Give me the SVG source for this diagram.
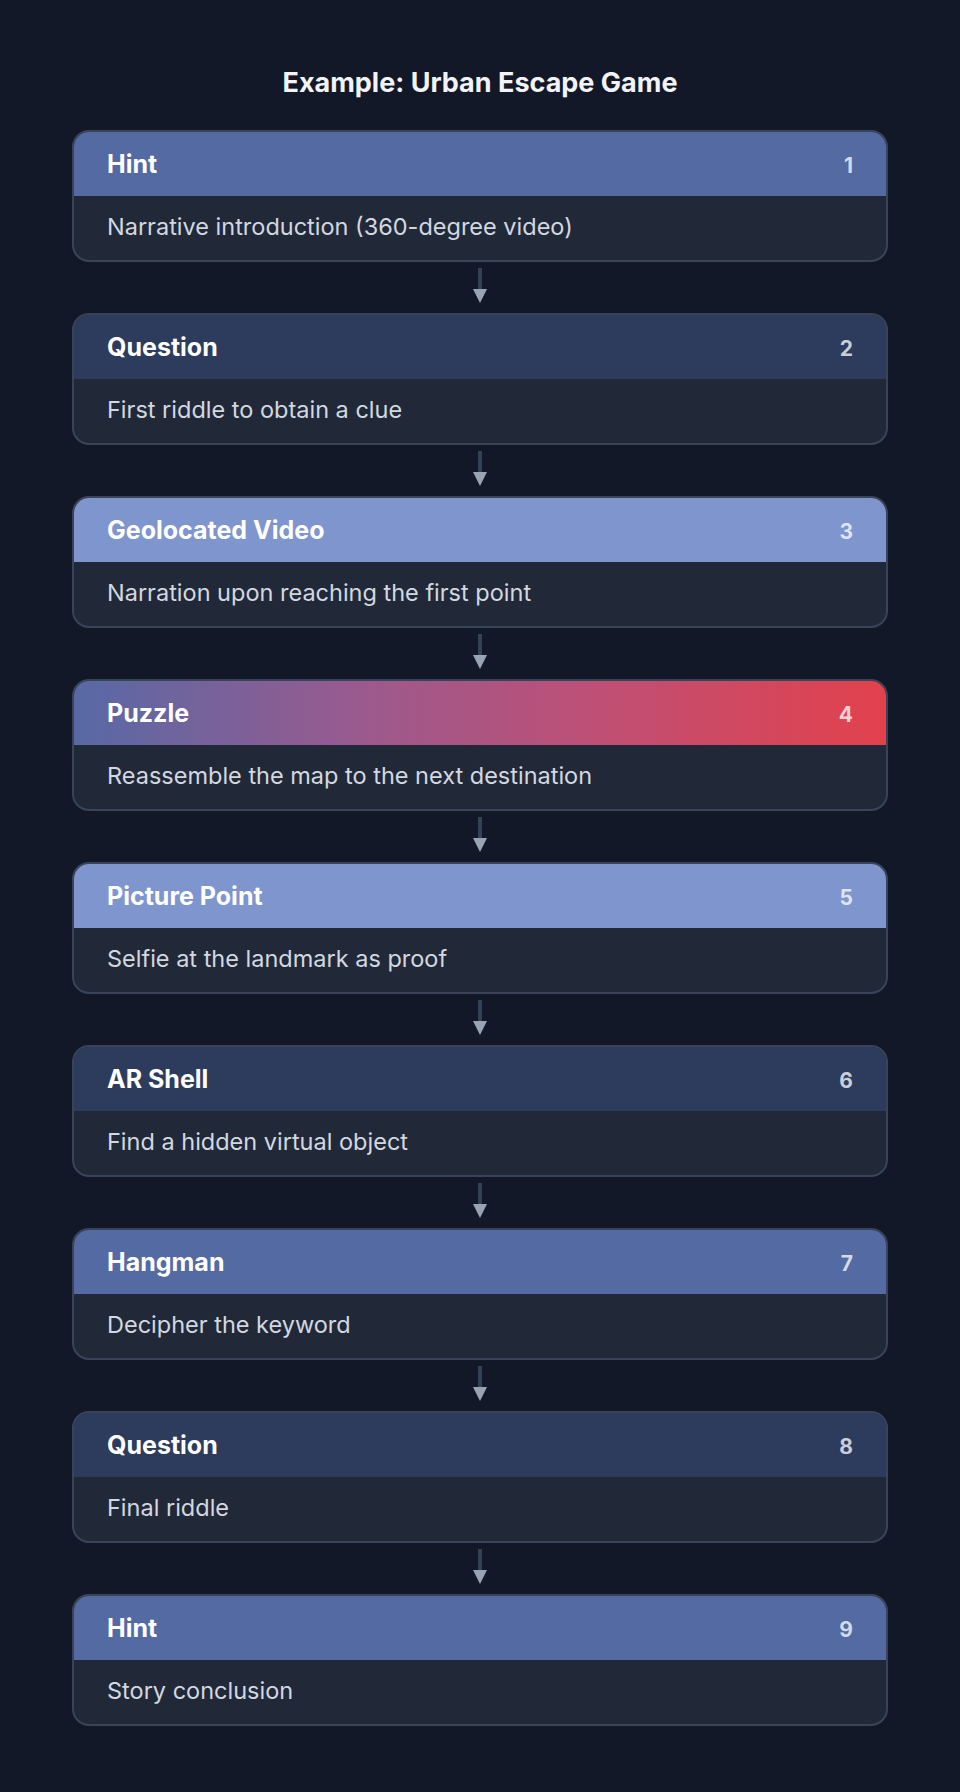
<svg xmlns="http://www.w3.org/2000/svg" width="960" height="1792" viewBox="0 0 960 1792">
<defs>
<style>
.bg{fill:#121827}
.card{fill:#212939;stroke:#3a4458;stroke-width:2}
.title{font-family:Inter,"Noto Sans",sans-serif;font-weight:700;font-size:27px;fill:#f1f3f7;text-anchor:middle}
.h{font-family:Inter,"Noto Sans",sans-serif;font-weight:700;font-size:25px;fill:#ffffff}
.n{font-family:Inter,"Noto Sans",sans-serif;font-weight:700;font-size:21px;fill:#ffffff;fill-opacity:0.75;text-anchor:end}
.b{font-family:Inter,"Noto Sans",sans-serif;font-weight:400;font-size:23.5px;fill:#d3d8e0}
.c1{fill:#536aa3}
.c2{fill:#2d3c5d}
.c3{fill:#7e95ce}
.line{stroke:#334155;stroke-width:4}
.head{fill:#9aa3b4}
</style>
<linearGradient id="gp" x1="0" y1="0" x2="1" y2="0">
<stop offset="0" stop-color="#5769a6"/>
<stop offset="0.35" stop-color="#9a5a8e"/>
<stop offset="0.65" stop-color="#bf4f74"/>
<stop offset="1" stop-color="#e2414c"/>
</linearGradient>
</defs>
<rect class="bg" x="0" y="0" width="960" height="1792"/>
<text class="title" x="480" y="92">Example: Urban Escape Game</text>

<g id="connectors">
<g transform="translate(0,0)"><line class="line" x1="480" y1="268" x2="480" y2="290"/><polygon class="head" points="473,289 487,289 480,303"/></g>
<g transform="translate(0,183)"><line class="line" x1="480" y1="268" x2="480" y2="290"/><polygon class="head" points="473,289 487,289 480,303"/></g>
<g transform="translate(0,366)"><line class="line" x1="480" y1="268" x2="480" y2="290"/><polygon class="head" points="473,289 487,289 480,303"/></g>
<g transform="translate(0,549)"><line class="line" x1="480" y1="268" x2="480" y2="290"/><polygon class="head" points="473,289 487,289 480,303"/></g>
<g transform="translate(0,732)"><line class="line" x1="480" y1="268" x2="480" y2="290"/><polygon class="head" points="473,289 487,289 480,303"/></g>
<g transform="translate(0,915)"><line class="line" x1="480" y1="268" x2="480" y2="290"/><polygon class="head" points="473,289 487,289 480,303"/></g>
<g transform="translate(0,1098)"><line class="line" x1="480" y1="268" x2="480" y2="290"/><polygon class="head" points="473,289 487,289 480,303"/></g>
<g transform="translate(0,1281)"><line class="line" x1="480" y1="268" x2="480" y2="290"/><polygon class="head" points="473,289 487,289 480,303"/></g>
</g>

<g id="node1" transform="translate(0,131)">
<rect class="card" x="73" y="0" width="814" height="130" rx="16"/>
<path class="c1" d="M89,1 H871 A15,15 0 0 1 886,16 V65 H74 V16 A15,15 0 0 1 89,1 Z"/>
<text class="h" x="107" y="42">Hint</text><text class="n" x="853" y="42">1</text>
<text class="b" x="107" y="104">Narrative introduction (360-degree video)</text>
</g>
<g id="node2" transform="translate(0,314)">
<rect class="card" x="73" y="0" width="814" height="130" rx="16"/>
<path class="c2" d="M89,1 H871 A15,15 0 0 1 886,16 V65 H74 V16 A15,15 0 0 1 89,1 Z"/>
<text class="h" x="107" y="42">Question</text><text class="n" x="853" y="42">2</text>
<text class="b" x="107" y="104">First riddle to obtain a clue</text>
</g>
<g id="node3" transform="translate(0,497)">
<rect class="card" x="73" y="0" width="814" height="130" rx="16"/>
<path class="c3" d="M89,1 H871 A15,15 0 0 1 886,16 V65 H74 V16 A15,15 0 0 1 89,1 Z"/>
<text class="h" x="107" y="42">Geolocated Video</text><text class="n" x="853" y="42">3</text>
<text class="b" x="107" y="104">Narration upon reaching the first point</text>
</g>
<g id="node4" transform="translate(0,680)">
<rect class="card" x="73" y="0" width="814" height="130" rx="16"/>
<path fill="url(#gp)" d="M89,1 H871 A15,15 0 0 1 886,16 V65 H74 V16 A15,15 0 0 1 89,1 Z"/>
<text class="h" x="107" y="42">Puzzle</text><text class="n" x="853" y="42">4</text>
<text class="b" x="107" y="104">Reassemble the map to the next destination</text>
</g>
<g id="node5" transform="translate(0,863)">
<rect class="card" x="73" y="0" width="814" height="130" rx="16"/>
<path class="c3" d="M89,1 H871 A15,15 0 0 1 886,16 V65 H74 V16 A15,15 0 0 1 89,1 Z"/>
<text class="h" x="107" y="42">Picture Point</text><text class="n" x="853" y="42">5</text>
<text class="b" x="107" y="104">Selfie at the landmark as proof</text>
</g>
<g id="node6" transform="translate(0,1046)">
<rect class="card" x="73" y="0" width="814" height="130" rx="16"/>
<path class="c2" d="M89,1 H871 A15,15 0 0 1 886,16 V65 H74 V16 A15,15 0 0 1 89,1 Z"/>
<text class="h" x="107" y="42">AR Shell</text><text class="n" x="853" y="42">6</text>
<text class="b" x="107" y="104">Find a hidden virtual object</text>
</g>
<g id="node7" transform="translate(0,1229)">
<rect class="card" x="73" y="0" width="814" height="130" rx="16"/>
<path class="c1" d="M89,1 H871 A15,15 0 0 1 886,16 V65 H74 V16 A15,15 0 0 1 89,1 Z"/>
<text class="h" x="107" y="42">Hangman</text><text class="n" x="853" y="42">7</text>
<text class="b" x="107" y="104">Decipher the keyword</text>
</g>
<g id="node8" transform="translate(0,1412)">
<rect class="card" x="73" y="0" width="814" height="130" rx="16"/>
<path class="c2" d="M89,1 H871 A15,15 0 0 1 886,16 V65 H74 V16 A15,15 0 0 1 89,1 Z"/>
<text class="h" x="107" y="42">Question</text><text class="n" x="853" y="42">8</text>
<text class="b" x="107" y="104">Final riddle</text>
</g>
<g id="node9" transform="translate(0,1595)">
<rect class="card" x="73" y="0" width="814" height="130" rx="16"/>
<path class="c1" d="M89,1 H871 A15,15 0 0 1 886,16 V65 H74 V16 A15,15 0 0 1 89,1 Z"/>
<text class="h" x="107" y="42">Hint</text><text class="n" x="853" y="42">9</text>
<text class="b" x="107" y="104">Story conclusion</text>
</g>
</svg>
